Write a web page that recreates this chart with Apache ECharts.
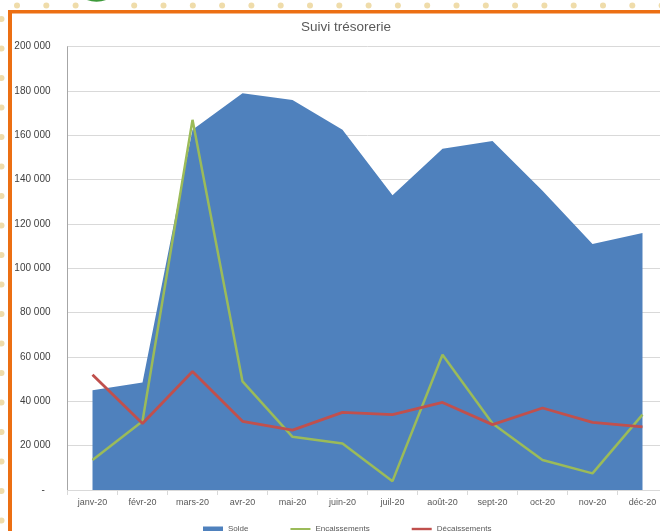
<!DOCTYPE html>
<html>
<head>
<meta charset="utf-8">
<script src="https://cdn.jsdelivr.net/npm/echarts@6/dist/echarts.min.js"></script>
<style>
  html, body { margin: 0; padding: 0; overflow: hidden; background: #fff; }
  #chart { width: 680px; height: 531px; }
</style>
</head>
<body>
<div id="chart"></div>
<script>
  // mois
  var months = ['janv-20', 'févr-20', 'mars-20', 'avr-20', 'mai-20', 'juin-20',
                'juil-20', 'août-20', 'sept-20', 'oct-20', 'nov-20', 'déc-20'];
  var solde = [45000, 48500, 162500, 179000, 176000, 162500, 133000, 154000, 157500, 135000, 111000, 116000];
  var encaissements = [13500, 31000, 167000, 49000, 24000, 21000, 4000, 61000, 30000, 13500, 7500, 34000];
  var decaissements = [52000, 30000, 53500, 31000, 27000, 35000, 34000, 39500, 29500, 37000, 30500, 28500];

  var font = '"Liberation Sans", Arial, sans-serif';

  // cadre orange + points décoratifs
  var deco = [];
  for (var i = 0; i < 23; i++) {
    var cx = 17 + i * 29.3;
    if (cx > 90 && cx < 112) continue;
    deco.push({ type: 'circle', shape: { cx: cx, cy: 5.5, r: 3 }, style: { fill: '#efdcaa' }, silent: true });
  }
  for (var j = 0; j < 18; j++) {
    deco.push({ type: 'circle', shape: { cx: 1.5, cy: 19 + j * 29.5, r: 3 }, style: { fill: '#efdcaa' }, silent: true });
  }
  deco.push({ type: 'circle', shape: { cx: 96.5, cy: -26, r: 27.7 }, style: { fill: '#3d9a3a' }, silent: true });
  deco.push({ type: 'rect', shape: { x: 8, y: 10, width: 680, height: 3.5 }, style: { fill: '#ec6f13' }, silent: true });
  deco.push({ type: 'rect', shape: { x: 8, y: 10, width: 4, height: 530 }, style: { fill: '#ec6f13' }, silent: true });

  var chart = echarts.init(document.getElementById('chart'));
  chart.setOption({
    animation: false,
    backgroundColor: '#fff',
    textStyle: { fontFamily: font },
    graphic: deco,
    title: {
      text: 'Suivi trésorerie',
      left: 341,
      textAlign: 'center',
      top: 15,
      textStyle: { fontFamily: font, fontSize: 13.5, fontWeight: 'normal', color: '#595959' }
    },
    legend: {
      left: 198,
      top: 520,
      itemWidth: 20,
      itemHeight: 6,
      itemGap: 42,
      textStyle: { fontFamily: font, fontSize: 8, color: '#595959' },
      itemStyle: { borderWidth: 0 },
      data: [
        { name: 'Solde', icon: 'path://M0,0h20v5h-20z' },
        { name: 'Encaissements', icon: 'path://M0,0h20v2h-20z' },
        { name: 'Décaissements', icon: 'path://M0,0h20v2.4h-20z' }
      ]
    },
    grid: { left: 67.5, top: 46.7, width: 600, height: 443.3 },
    xAxis: {
      type: 'category',
      data: months,
      boundaryGap: true,
      axisLine: { lineStyle: { color: '#d9d9d9' } },
      axisTick: { show: true, length: 5, lineStyle: { color: '#d9d9d9' } },
      axisLabel: { fontFamily: font, fontSize: 9, color: '#595959', margin: 8 }
    },
    yAxis: {
      type: 'value',
      min: 0,
      max: 200000,
      interval: 20000,
      axisLine: { show: true, lineStyle: { color: '#a6a6a6' } },
      axisTick: { show: false },
      splitLine: { lineStyle: { color: '#d9d9d9' } },
      axisLabel: {
        fontFamily: font, fontSize: 10, color: '#404040', margin: 17,
        formatter: function (v) {
          if (v === 0) return '-  ';
          return String(v).replace(/\B(?=(\d{3})+(?!\d))/g, ' ');
        }
      }
    },
    series: [
      {
        name: 'Solde',
        type: 'line',
        data: solde,
        symbol: 'none',
        color: '#4f81bd',
        lineStyle: { width: 0 },
        areaStyle: { color: '#4f81bd', opacity: 1 }
      },
      {
        name: 'Encaissements',
        type: 'line',
        data: encaissements,
        symbol: 'none',
        color: '#9bbb59',
        lineStyle: { width: 2.5, color: '#9bbb59' }
      },
      {
        name: 'Décaissements',
        type: 'line',
        data: decaissements,
        symbol: 'none',
        color: '#c0504d',
        lineStyle: { width: 2.8, color: '#c0504d' }
      }
    ]
  });
</script>
</body>
</html>
